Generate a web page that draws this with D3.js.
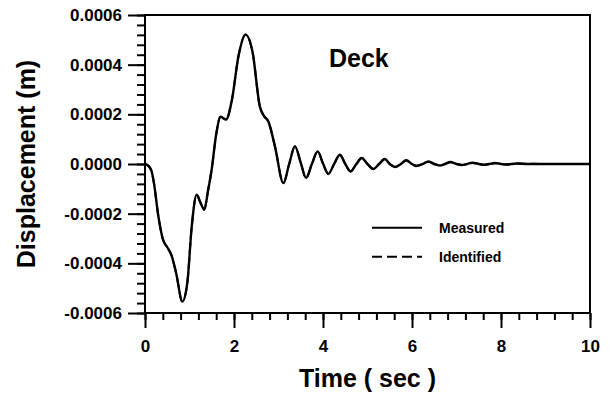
<!DOCTYPE html>
<html>
<head>
<meta charset="utf-8">
<script src="https://cdn.jsdelivr.net/npm/d3@7"></script>
<style>
  body { margin: 0; background: #fff; }
  svg { display: block; background: #fff; }
  text { font-family: "Liberation Sans", Arial, Helvetica, sans-serif; font-weight: bold; fill: #000; }
</style>
</head>
<body>
<svg id="chart" width="610" height="396"></svg>
<script>
// Deck displacement response: time (s) and displacement (m)
const timeSec = [
  0, 0.05, 0.1, 0.15, 0.2, 0.3, 0.4, 0.5, 0.6, 0.7, 0.84, 0.95, 1.05, 1.16, 1.25, 1.33, 1.42, 1.5,
  1.6, 1.7, 1.82, 1.95, 2.1, 2.26, 2.42, 2.58, 2.68, 2.77, 2.92, 3.11, 3.24, 3.37, 3.5, 3.62, 3.75,
  3.88, 4.0, 4.12, 4.25, 4.38, 4.5, 4.62, 4.75, 4.87, 5.0, 5.13, 5.26, 5.39, 5.5, 5.62, 5.75, 5.87,
  6.0, 6.1, 6.24, 6.37, 6.5, 6.62, 6.74, 6.86, 7.0, 7.12, 7.24, 7.36, 7.5, 7.62, 7.74, 7.86, 8.0,
  8.12, 8.36, 8.6, 9.0, 9.5, 10.0
];
const measured = [
  0, -0.000004, -0.000012, -0.00003, -0.000076, -0.00021, -0.000302, -0.000335, -0.00037, -0.00044,
  -0.000554, -0.00048, -0.000252, -0.000124, -0.000157, -0.000184, -0.000104, -0.00002,
  0.00012, 0.00019, 0.000179, 0.000255, 0.000434, 0.000521, 0.000448, 0.000232, 0.000192, 0.000172,
  0.000071, -0.000077, 0.0, 0.000071, 0.000005, -0.000056, 0.0,
  0.000051, 0.000002, -0.00004, 0.0, 0.0000375, 0.0, -0.00003, 0.0, 0.000024, 0.0, -0.00002, 0.0,
  0.00002, 0.0, -0.000012, 0.0, 0.000015,
  0.0, -0.000008, 0.0, 0.00001, 0.0, -0.000006, 0.0, 0.000008, 0.0, -0.000004, 0.0, 0.000005, 0.0,
  -0.000003, 0.0, 0.000004, 0.0,
  -0.000002, 0.000002, 0.0, 0.0, 0.0, 0.0
];
const identified = [
  0, -0.000004, -0.000012, -0.00003, -0.000076, -0.00021, -0.000302, -0.000335, -0.00037, -0.00044,
  -0.000554, -0.00048, -0.000252, -0.000124, -0.000157, -0.000184, -0.000104, -0.00002,
  0.00012, 0.00019, 0.000179, 0.000255, 0.000434, 0.000521, 0.000448, 0.000232, 0.000192, 0.000172,
  0.000071, -0.000077, 0.0, 0.000071, 0.000005, -0.000056, 0.0,
  0.000051, 0.000002, -0.00004, 0.0, 0.0000375, 0.0, -0.00003, 0.0, 0.000024, 0.0, -0.00002, 0.0,
  0.00002, 0.0, -0.000012, 0.0, 0.000014,
  0.0, -0.000007, 0.0, 0.000009, 0.0, -0.000005, 0.0, 0.000007, 0.0, -0.000004, 0.0, 0.000004, 0.0,
  -0.000003, 0.0, 0.000003, 0.0,
  -0.000002, 0.000002, 0.000001, 0.0, 0.0, 0.0
];

const xMajorTicks = [0, 2, 4, 6, 8, 10];
const xTickLabels = ["0", "2", "4", "6", "8", "10"];
const yMajorTicks = [-0.0006, -0.0004, -0.0002, 0, 0.0002, 0.0004, 0.0006];
const yTickLabels = ["-0.0006", "-0.0004", "-0.0002", "0.0000", "0.0002", "0.0004", "0.0006"];
const seriesNames = ["Measured", "Identified"];

const svg = d3.select("#chart");
const plotLeft = 145, plotRight = 590, plotTop = 15, plotBottom = 313;

const x = d3.scaleLinear().domain([0, 10]).range([plotLeft, plotRight]);
const y = d3.scaleLinear().domain([-0.0006, 0.0006]).range([plotBottom, plotTop]);

const xMinor = d3.range(0, 10.001, 0.4).map(v => +v.toFixed(2));
const yMinor = d3.range(-0.0006, 0.00060001, 0.00004).map(v => +v.toFixed(6));

// plot frame
svg.append("rect")
  .attr("x", plotLeft).attr("y", plotTop)
  .attr("width", plotRight - plotLeft).attr("height", plotBottom - plotTop)
  .attr("fill", "none").attr("stroke", "#000").attr("stroke-width", 2);

function styleAxis(g) {
  g.select(".domain").remove();
  g.selectAll(".tick line").attr("stroke", "#000").attr("stroke-width", 2);
}

// x axis: minor then major ticks
svg.append("g").attr("transform", `translate(0,${plotBottom})`)
  .call(d3.axisBottom(x).tickValues(xMinor).tickSize(7).tickFormat(""))
  .call(styleAxis);
svg.append("g").attr("transform", `translate(0,${plotBottom})`)
  .call(d3.axisBottom(x).tickValues(xMajorTicks).tickSize(15).tickPadding(12)
    .tickFormat((d, i) => xTickLabels[i]))
  .call(styleAxis)
  .call(g => g.selectAll("text").attr("font-size", 17).attr("fill", "#000"));

// y axis: minor then major ticks
svg.append("g").attr("transform", `translate(${plotLeft},0)`)
  .call(d3.axisLeft(y).tickValues(yMinor).tickSize(8).tickFormat(""))
  .call(styleAxis);
svg.append("g").attr("transform", `translate(${plotLeft},0)`)
  .call(d3.axisLeft(y).tickValues(yMajorTicks).tickSize(17).tickPadding(6)
    .tickFormat((d, i) => yTickLabels[i]))
  .call(styleAxis)
  .call(g => g.selectAll("text").attr("font-size", 17).attr("fill", "#000"));

// axis titles
svg.append("text")
  .attr("x", (plotLeft + plotRight) / 2).attr("y", 387)
  .attr("text-anchor", "middle").attr("font-size", 25)
  .text("Time ( sec )");
svg.append("text")
  .attr("transform", `translate(35,${(plotTop + plotBottom) / 2}) rotate(-90)`)
  .attr("text-anchor", "middle").attr("font-size", 25)
  .text("Displacement (m)");

// panel title
svg.append("text")
  .attr("x", 329).attr("y", 67)
  .attr("font-size", 25)
  .text("Deck");

// response curves
const line = d3.line()
  .x((d, i) => x(timeSec[i]))
  .y(d => y(d))
  .curve(d3.curveMonotoneX);

svg.append("path")
  .datum(measured)
  .attr("d", line)
  .attr("fill", "none").attr("stroke", "#000").attr("stroke-width", 2.4);

svg.append("path")
  .datum(identified)
  .attr("d", line)
  .attr("fill", "none").attr("stroke", "#000").attr("stroke-width", 2)
  .attr("stroke-dasharray", "10,5");

// legend
const legendRows = [
  { name: seriesNames[0], dash: null, y: 227.7 },
  { name: seriesNames[1], dash: "10,5", y: 256.7 }
];
const lg = svg.append("g");
legendRows.forEach(r => {
  lg.append("line")
    .attr("x1", 372).attr("x2", 422).attr("y1", r.y).attr("y2", r.y)
    .attr("stroke", "#000").attr("stroke-width", 2)
    .attr("stroke-dasharray", r.dash);
  lg.append("text")
    .attr("x", 439).attr("y", r.y + 5)
    .attr("font-size", 14)
    .text(r.name);
});
</script>
</body>
</html>
